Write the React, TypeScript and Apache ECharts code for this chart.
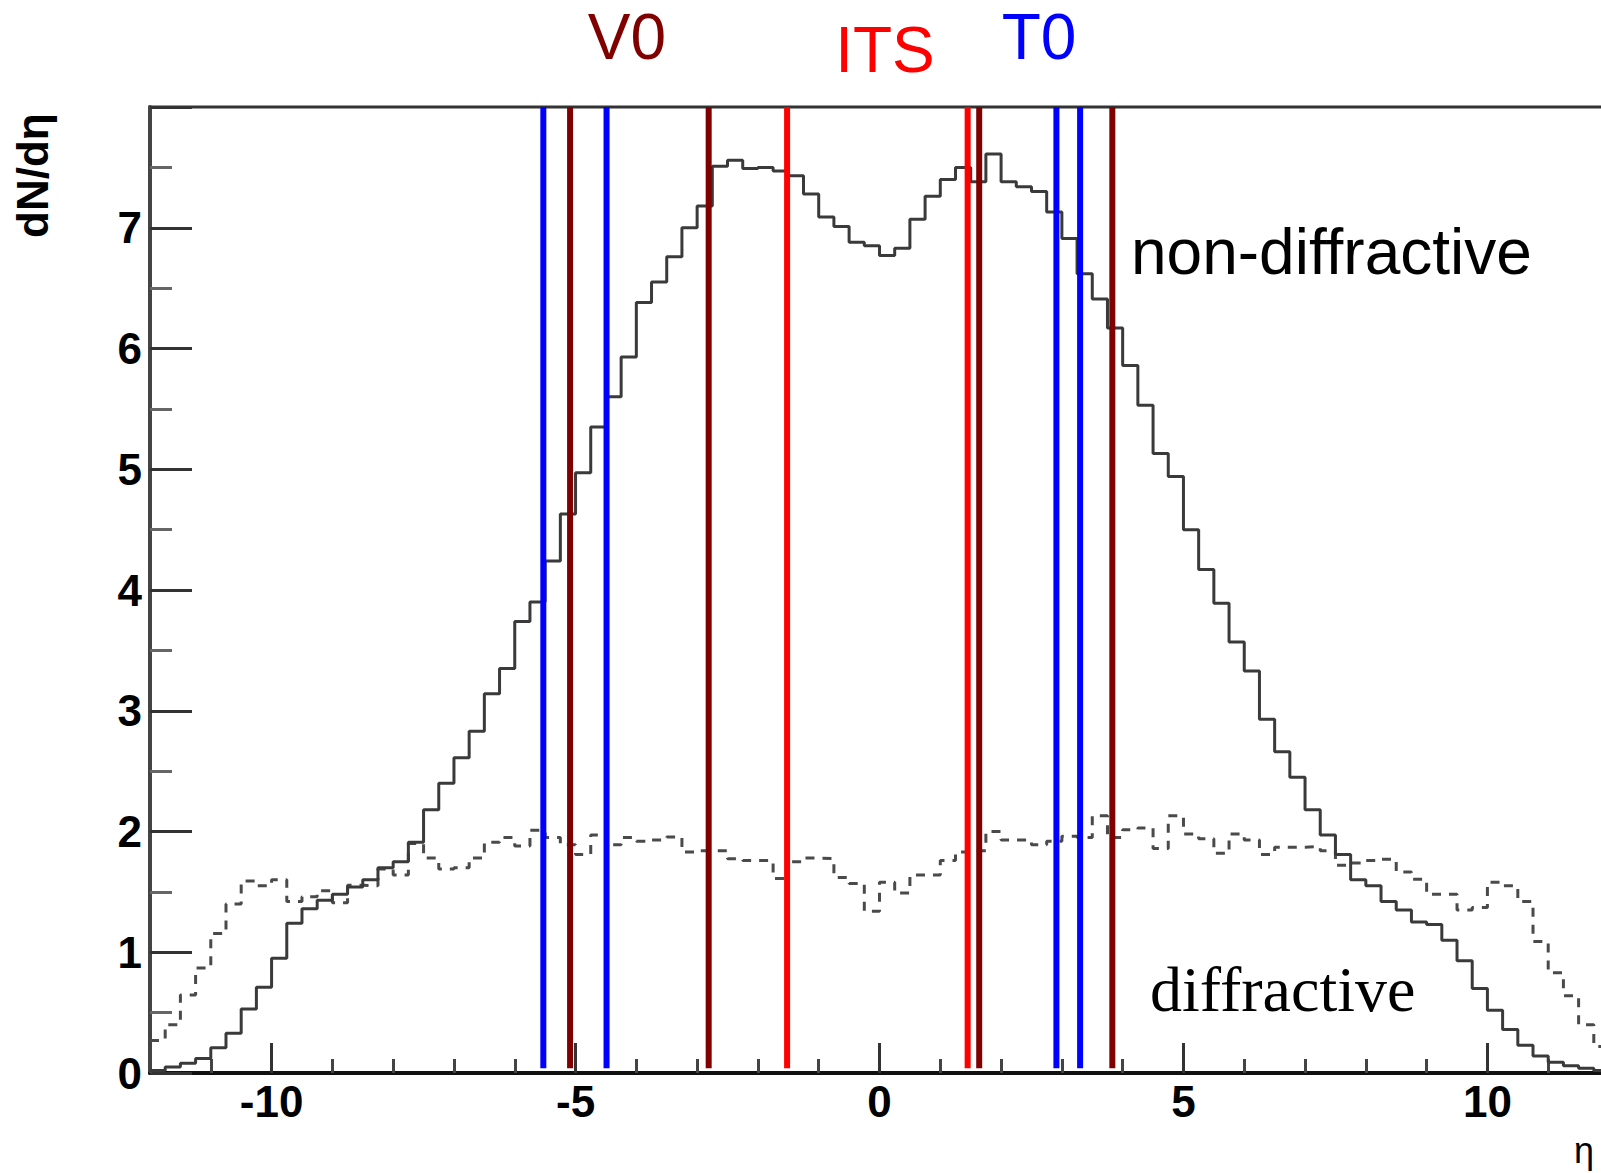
import React, { useEffect, useRef } from "react";
import * as echarts from "echarts";

// Histogram binning (eta)
const etaMin = -12;
const etaMax = 12;
const binWidth = 0.25;

// non-diffractive dN/deta, 96 bins of 0.25 from -12 to 12
const nonDiffractive = [
  0.02, 0.05, 0.08, 0.12, 0.21, 0.33, 0.53, 0.71, 0.95, 1.24, 1.36, 1.43,
  1.48, 1.54, 1.6, 1.7, 1.75, 1.91, 2.18, 2.4, 2.61, 2.83, 3.14, 3.35,
  3.74, 3.9, 4.24, 4.63, 4.97, 5.35, 5.6, 5.93, 6.38, 6.55, 6.76, 7.0,
  7.18, 7.51, 7.56, 7.49, 7.5, 7.47, 7.43, 7.28, 7.09, 7.01, 6.88, 6.85,
  6.77, 6.83, 7.07, 7.26, 7.4, 7.5, 7.38, 7.61, 7.38, 7.34, 7.3, 7.13,
  6.91, 6.62, 6.41, 6.17, 5.86, 5.53, 5.13, 4.94, 4.5, 4.17, 3.89, 3.57,
  3.33, 2.93, 2.66, 2.45, 2.18, 1.97, 1.81, 1.6, 1.55, 1.42, 1.35, 1.25,
  1.23, 1.1, 0.93, 0.7, 0.52, 0.36, 0.23, 0.14, 0.09, 0.06, 0.04, 0.02,
];

// diffractive dN/deta (dashed)
const diffractive = [
  0.27, 0.4, 0.645, 0.87, 1.155, 1.4, 1.59, 1.55, 1.6, 1.42, 1.46, 1.51,
  1.41, 1.555, 1.55, 1.69, 1.64, 1.9, 1.78, 1.69, 1.7, 1.78, 1.91, 1.95,
  1.88, 2.01, 1.95, 1.89, 1.81, 1.97, 1.89, 1.95, 1.92, 1.93, 1.955, 1.83,
  1.84, 1.84, 1.775, 1.76, 1.76, 1.61, 1.75, 1.78, 1.775, 1.62, 1.57, 1.34,
  1.58, 1.49, 1.64, 1.64, 1.76, 1.83, 1.84, 2.0, 1.93, 1.93, 1.89, 1.92,
  1.96, 1.95, 2.13, 1.95, 2.015, 2.03, 1.86, 2.13, 1.98, 1.94, 1.82, 1.98,
  1.93, 1.81, 1.87, 1.87, 1.875, 1.84, 1.72, 1.74, 1.76, 1.77, 1.665, 1.605,
  1.48, 1.48, 1.35, 1.37, 1.58, 1.55, 1.42, 1.09, 0.83, 0.64, 0.4, 0.22,
];

const yTickValues = [0, 1, 2, 3, 4, 5, 6, 7];
const xMajorTicks = [-10, -5, 0, 5, 10];

// detector acceptance edges (eta)
const v0Lines = [-5.09, -2.81, 1.64, 3.83];
const itsLines = [-1.52, 1.45];
const t0Lines = [-5.53, -4.49, 2.91, 3.3];

const lineBottom = 0.04;
const lineTop = 8;

function histPoints(vals: number[]) {
  const pts: number[][] = vals.map((v, i) => [etaMin + i * binWidth, v]);
  pts.push([etaMin + vals.length * binWidth, vals[vals.length - 1]]);
  return pts;
}

function vLineSeries(xs: number[], color: string) {
  return xs.map((x) => ({
    type: "line",
    data: [
      [x, lineBottom],
      [x, lineTop],
    ],
    showSymbol: false,
    symbol: "none",
    silent: true,
    z: 5,
    lineStyle: { color, width: 6 },
  }));
}

const FONT = "'Liberation Sans', Arial, Helvetica, sans-serif";

export default function App() {
  const ref = useRef<HTMLDivElement>(null);
  useEffect(() => {
    if (!ref.current) return;
    const chart = echarts.init(ref.current, null, { renderer: "svg" });
    const option: any = {
      animation: false,
      backgroundColor: "#ffffff",
      grid: {
        left: 150,
        top: 107,
        width: 1459,
        height: 966,
        show: true,
        borderColor: "#333",
        borderWidth: 3,
        backgroundColor: "transparent",
        containLabel: false,
        outerBoundsMode: "none",
      },
      xAxis: [
        {
          type: "value",
          min: etaMin,
          max: etaMax,
          interval: 1,
          position: "bottom",
          axisLine: { show: true, onZero: false, lineStyle: { color: "#111", width: 4 } },
          axisTick: { show: true, inside: true, length: 14, lineStyle: { color: "#444", width: 3 } },
          axisLabel: { show: false },
          splitLine: { show: false },
        },
        {
          type: "value",
          min: etaMin,
          max: etaMax,
          position: "bottom",
          axisLine: { show: false, onZero: false },
          axisTick: {
            show: true,
            inside: true,
            length: 30,
            customValues: xMajorTicks,
            lineStyle: { color: "#333", width: 3 },
          },
          axisLabel: {
            show: true,
            customValues: xMajorTicks,
            fontSize: 44,
            fontWeight: "bold",
            fontFamily: FONT,
            color: "#000",
            margin: 6,
          },
          splitLine: { show: false },
        },
      ],
      yAxis: {
        type: "value",
        min: 0,
        max: 8,
        interval: 1,
        axisLine: { show: true, onZero: false, lineStyle: { color: "#444", width: 4 } },
        axisTick: { show: true, inside: true, length: 42, lineStyle: { color: "#333", width: 3 } },
        minorTick: { show: true, splitNumber: 2, length: 22, lineStyle: { color: "#666", width: 3 } },
        axisLabel: {
          fontSize: 44,
          fontWeight: "bold",
          fontFamily: FONT,
          color: "#000",
          margin: 8,
          formatter: (v: number) => (yTickValues.indexOf(v) >= 0 ? String(v) : ""),
        },
        splitLine: { show: false },
        minorSplitLine: { show: false },
      },
      series: [
        {
          type: "line",
          step: "end",
          data: histPoints(diffractive),
          showSymbol: false,
          symbol: "none",
          silent: true,
          z: 2,
          lineStyle: { color: "#4a4a4a", width: 3, type: [9, 8] },
        },
        {
          type: "line",
          step: "end",
          data: histPoints(nonDiffractive),
          showSymbol: false,
          symbol: "none",
          silent: true,
          z: 3,
          lineStyle: { color: "#3a3a3a", width: 3 },
        },
        ...vLineSeries(t0Lines, "#0000ff"),
        ...vLineSeries(v0Lines, "#800000"),
        ...vLineSeries(itsLines, "#ff0000"),
      ],
      graphic: [
        {
          type: "text",
          x: 32,
          y: 238,
          rotation: Math.PI / 2,
          style: {
            text: "dN/dη",
            fill: "#000",
            font: `bold 44px ${FONT}`,
            textAlign: "left",
            textVerticalAlign: "middle",
            align: "left",
            verticalAlign: "middle",
          },
        },
        {
          type: "text",
          x: 1574,
          y: 1150,
          style: {
            text: "η",
            fill: "#000",
            font: `36px ${FONT}`,
            textAlign: "left",
            textVerticalAlign: "middle",
            align: "left",
            verticalAlign: "middle",
          },
        },
        {
          type: "text",
          x: 627,
          y: 37,
          style: {
            text: "V0",
            fill: "#800000",
            font: `64px ${FONT}`,
            textAlign: "center",
            textVerticalAlign: "middle",
            align: "center",
            verticalAlign: "middle",
          },
        },
        {
          type: "text",
          x: 885,
          y: 50,
          style: {
            text: "ITS",
            fill: "#ff0000",
            font: `64px ${FONT}`,
            textAlign: "center",
            textVerticalAlign: "middle",
            align: "center",
            verticalAlign: "middle",
          },
        },
        {
          type: "text",
          x: 1039,
          y: 37,
          style: {
            text: "T0",
            fill: "#0000ff",
            font: `64px ${FONT}`,
            textAlign: "center",
            textVerticalAlign: "middle",
            align: "center",
            verticalAlign: "middle",
          },
        },
        {
          type: "text",
          x: 1131,
          y: 252,
          style: {
            text: "non-diffractive",
            fill: "#000",
            font: `64px ${FONT}`,
            textAlign: "left",
            textVerticalAlign: "middle",
            align: "left",
            verticalAlign: "middle",
          },
        },
        {
          type: "text",
          x: 1150,
          y: 989,
          style: {
            text: "diffractive",
            fill: "#000",
            font: `64px 'Liberation Serif', 'Times New Roman', serif`,
            textAlign: "left",
            textVerticalAlign: "middle",
            align: "left",
            verticalAlign: "middle",
          },
        },
      ],
    };
    chart.setOption(option);
    return () => chart.dispose();
  }, []);
  return (
    <div
      ref={ref}
      style={{ position: "absolute", left: 0, top: 0, width: 1601, height: 1173, background: "#fff" }}
    />
  );
}
